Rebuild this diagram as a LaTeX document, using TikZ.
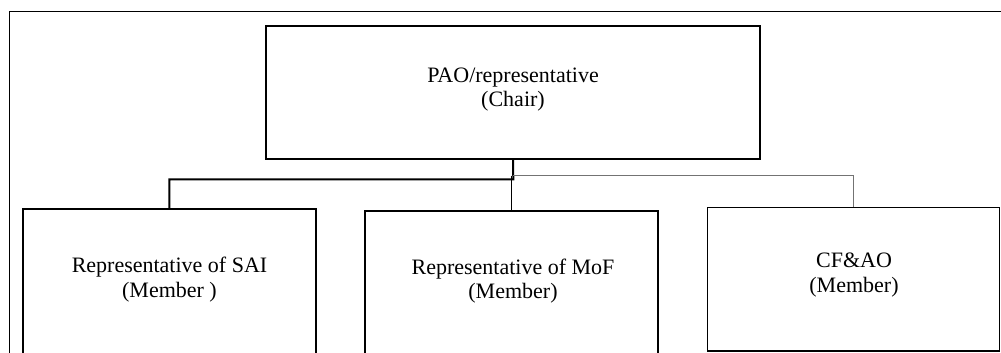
\documentclass[tikz,border=0pt]{standalone}
\usepackage{fontspec}
\setmainfont{Liberation Serif}
\begin{document}
\begin{tikzpicture}[x=0.75pt,y=-0.75pt,
  box/.style={draw=black,line width=0.8pt,rectangle,inner sep=0pt,outer sep=0pt},
  lbl/.style={align=center,inner sep=0pt,font=\fontsize{16.5}{18.5}\selectfont},
  link/.style={draw=black,line width=0.8pt},
  boldlink/.style={draw=black,line width=1.5pt},
  greylink/.style={draw=black!55,line width=1.1pt}]
\useasboundingbox (0,0) rectangle (1001,353);
\clip (0,0) rectangle (1001,353);

% outer frame (left and top edges)
\draw[line width=0.8pt] (9.3,400) -- (9.3,11.7) -- (1010,11.7);

% boxes
\node[box,minimum width=370.5pt,minimum height=99.75pt] (chair) at (513,92.5) {};
\draw[line width=1.6pt] (chair.north west) -- (chair.north east);
\node[box,line width=1.3pt,minimum width=220pt,minimum height=124.3pt] (sai) at (169.35,292.15) {};
\node[box,minimum width=219.75pt,minimum height=123pt] (mof) at (511.5,293) {};
\node[box,minimum width=219.15pt,minimum height=107.8pt] (cfao) at (853.6,279.15) {};

% labels
\node[lbl] (chairtxt) at (513,89.5) {PAO/representative\\(Chair)};
\node[lbl] (saitxt) at (169.5,279.5) {Representative of SAI\\(Member )};
\node[lbl] (moftxt) at (513,281) {Representative of MoF\\(Member)};
\node[lbl] (cfaotxt) at (854,275) {CF\&AO\\(Member)};

% connectors
\coordinate (jl) at (513.3,179.3);
\coordinate (jr) at (513.3,175.7);
\coordinate (jm) at (511.7,175.7);
\draw[boldlink] (chair.south) -- (jl) -| (sai.north);
\draw[greylink] (jr) -| (cfao.north);
\draw[link] (jm) -- (jm |- mof.north);
\end{tikzpicture}
\end{document}
